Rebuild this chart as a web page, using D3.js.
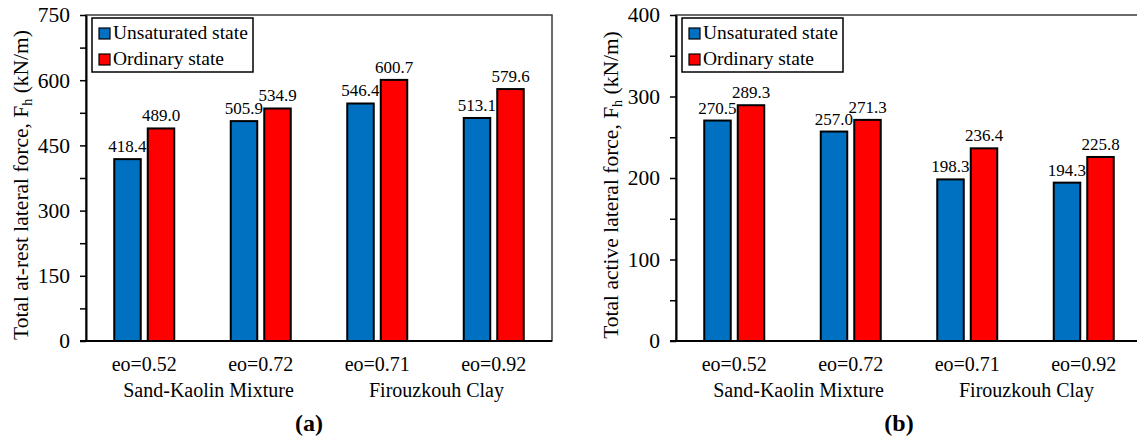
<!DOCTYPE html>
<html>
<head>
<meta charset="utf-8">
<script src="https://cdn.jsdelivr.net/npm/d3@7"></script>
<style>
  body { margin: 0; background: #fff; }
  svg text { font-family: "Liberation Serif", "Times New Roman", serif; fill: #000; }
</style>
</head>
<body>
<svg id="chart" width="1137" height="439"></svg>
<script>
// values
var categories = ["eo=0.52", "eo=0.72", "eo=0.71", "eo=0.92"];
var soilGroups = ["Sand-Kaolin Mixture", "Firouzkouh Clay"];
var series = ["Unsaturated state", "Ordinary state"];

var atRestUnsaturated = [418.4, 505.9, 546.4, 513.1];
var atRestOrdinary = [489.0, 534.9, 600.7, 579.6];
var activeUnsaturated = [270.5, 257.0, 198.3, 194.3];
var activeOrdinary = [289.3, 271.3, 236.4, 225.8];

var atRestTicks = [0, 75, 150, 225, 300, 375, 450, 525, 600, 675, 750];
var activeTicks = [0, 50, 100, 150, 200, 250, 300, 350, 400];

var colors = {
    "Unsaturated state": "#0070C0",
    "Ordinary state": "#FF0000"
};

var svg = d3.select("#chart");
svg.append("rect").attr("width", 1137).attr("height", 439).style("fill", "#fff");

var plotLeft = 86, plotRight = 552, plotTop = 15, plotBottom = 341;
var fmt = d3.format(".1f");

function drawPanel(offsetX, unsat, ord, ticks, labelStep, title, letter) {
    var g = svg.append("g").attr("transform", "translate(" + offsetX + ",0)");

    var x0 = d3.scaleBand().domain(categories).range([plotLeft, plotRight]);
    var bw = x0.bandwidth();
    var x1 = d3.scaleBand().domain(series)
        .range([(bw - 60) / 2, (bw + 60) / 2])
        .paddingInner(0.209);
    var y = d3.scaleLinear().domain([0, d3.max(ticks)]).range([plotBottom, plotTop]);

    // frame
    g.append("rect")
        .attr("x", plotLeft).attr("y", plotTop)
        .attr("width", plotRight - plotLeft).attr("height", plotBottom - plotTop)
        .style("fill", "none").style("stroke", "#3a3a3a").style("stroke-width", 1.5);

    var rows = categories.map(function (c, i) {
        return { cat: c, vals: [{ s: series[0], v: unsat[i] }, { s: series[1], v: ord[i] }] };
    });

    var grp = g.selectAll("g.cat")
        .data(rows)
        .enter()
        .append("g")
        .attr("class", "cat")
        .attr("transform", (d) => "translate(" + x0(d.cat) + ",0)");

    grp.selectAll("rect")
        .data((d) => d.vals)
        .enter()
        .append("rect")
        .attr("x", (d) => x1(d.s))
        .attr("y", (d) => y(d.v))
        .attr("width", x1.bandwidth())
        .attr("height", (d) => y(0) - y(d.v))
        .style("fill", (d) => colors[d.s])
        .style("stroke", "#000")
        .style("stroke-width", 2);

    grp.selectAll("text.val")
        .data((d) => d.vals)
        .enter()
        .append("text")
        .attr("class", "val")
        .attr("x", (d) => x1(d.s) + x1.bandwidth() / 2)
        .attr("y", (d) => y(d.v) - 7)
        .attr("text-anchor", "middle")
        .style("font-size", "17px")
        .text((d) => fmt(d.v));

    // y axis
    var yAxis = d3.axisLeft(y)
        .tickValues(ticks)
        .tickSize(6)
        .tickSizeOuter(0)
        .tickPadding(10)
        .tickFormat((d) => d % labelStep === 0 ? d : "");
    var ya = g.append("g").attr("transform", "translate(" + plotLeft + ",0)").call(yAxis);
    ya.select(".domain").style("stroke", "#000").style("stroke-width", 2);
    ya.selectAll(".tick line").style("stroke", "#000").style("stroke-width", 1.5);
    ya.selectAll(".tick text")
        .style("font-size", "21.5px")
        .style("font-family", "'Liberation Serif', 'Times New Roman', serif");

    // x axis
    var xAxis = d3.axisBottom(x0).tickSize(0).tickSizeOuter(0).tickPadding(15.5);
    var xa = g.append("g").attr("transform", "translate(0," + plotBottom + ")").call(xAxis);
    xa.select(".domain").style("stroke", "#000").style("stroke-width", 2)
        .attr("d", "M" + (plotLeft - 6) + ",0H" + plotRight);
    xa.selectAll(".tick text")
        .style("font-size", "20px")
        .style("font-family", "'Liberation Serif', 'Times New Roman', serif");

    // soil type labels under pairs of categories
    var groupX = [
        (x0(categories[0]) + x0(categories[1]) + bw) / 2 + 6,
        (x0(categories[2]) + x0(categories[3]) + bw) / 2 + 1
    ];
    g.selectAll("text.soil")
        .data(soilGroups)
        .enter()
        .append("text")
        .attr("class", "soil")
        .attr("x", (d, i) => groupX[i])
        .attr("y", 397)
        .attr("text-anchor", "middle")
        .style("font-size", "20px")
        .text((d) => d);

    // axis title
    var t = g.append("text")
        .attr("transform", "translate(27.5," + 185 + ") rotate(-90)")
        .attr("text-anchor", "middle")
        .style("font-size", "21.5px");
    t.append("tspan").text(title + ", F");
    t.append("tspan").attr("baseline-shift", "-30%").style("font-size", "14px").text("h");
    t.append("tspan").text(" (kN/m)");

    // panel letter
    g.append("text")
        .attr("x", plotLeft + 223)
        .attr("y", 431)
        .attr("text-anchor", "middle")
        .style("font-size", "24px")
        .style("font-weight", "bold")
        .text(letter);

    // legend
    var lg = g.append("g");
    lg.append("rect")
        .attr("x", 92).attr("y", 18).attr("width", 161).attr("height", 54)
        .style("fill", "#fff").style("stroke", "#000").style("stroke-width", 1.5);
    var item = lg.selectAll("g.item")
        .data(series)
        .enter()
        .append("g")
        .attr("class", "item")
        .attr("transform", (d, i) => "translate(99," + (28 + i * 26) + ")");
    item.append("rect")
        .attr("width", 11).attr("height", 11)
        .style("fill", (d) => colors[d])
        .style("stroke", "#000").style("stroke-width", 1.2);
    item.append("text")
        .attr("x", 14).attr("y", 11)
        .style("font-size", "19.5px")
        .text((d) => d);
}

drawPanel(0, atRestUnsaturated, atRestOrdinary, atRestTicks, 150, "Total at-rest lateral force", "(a)");
drawPanel(590, activeUnsaturated, activeOrdinary, activeTicks, 100, "Total active lateral force", "(b)");
</script>
</body>
</html>
